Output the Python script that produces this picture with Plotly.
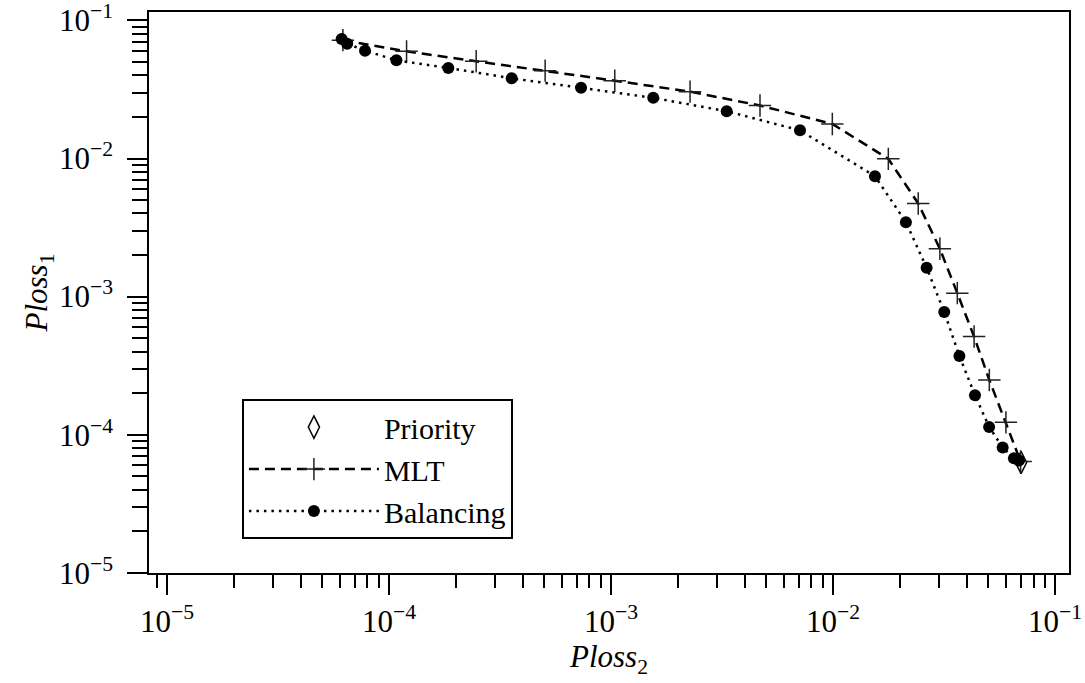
import plotly.graph_objects as go

# ---- data ----
ploss2_priority = [0.0703]
ploss1_priority = [6.3e-5]

ploss2_mlt = [6.2e-5, 1.20e-4, 2.47e-4, 5.05e-4, 1.04e-3, 2.27e-3, 4.69e-3, 9.93e-3,
              0.01775, 0.0242, 0.0303, 0.0363, 0.0432, 0.0506, 0.0601, 0.0700]
ploss1_mlt = [0.0720, 0.0597, 0.0506, 0.0433, 0.0366, 0.0305, 0.0242, 0.0178,
              9.95e-3, 4.73e-3, 2.22e-3, 1.06e-3, 5.14e-4, 2.49e-4, 1.23e-4, 6.4e-5]

ploss2_bal = [6.12e-5, 6.48e-5, 7.8e-5, 1.08e-4, 1.85e-4, 3.57e-4, 7.33e-4, 1.55e-3,
              3.32e-3, 7.1e-3, 0.01545, 0.0213, 0.0264, 0.0317, 0.0371, 0.0436,
              0.0505, 0.0581, 0.0653, 0.0688]
ploss1_bal = [0.0734, 0.0679, 0.0604, 0.0514, 0.0453, 0.0381, 0.0325, 0.0275,
              0.0220, 0.0160, 7.45e-3, 3.46e-3, 1.62e-3, 7.74e-4, 3.72e-4, 1.93e-4,
              1.14e-4, 8.09e-5, 6.77e-5, 6.5e-5]

tick_vals = [1e-5, 1e-4, 1e-3, 1e-2, 1e-1]
tick_text = ["10<sup>\u22125</sup>", "10<sup>\u22124</sup>", "10<sup>\u22123</sup>",
             "10<sup>\u22122</sup>", "10<sup>\u22121</sup>"]
ytick_text = [t + "\u00a0" for t in tick_text]

FONT = "Liberation Serif"

fig = go.Figure()
fig.add_trace(go.Scatter(
    x=ploss2_priority, y=ploss1_priority, mode="markers", name="Priority",
    marker=dict(symbol="diamond-tall-open", size=16, color="black",
                line=dict(width=1.5, color="black"))))
fig.add_trace(go.Scatter(
    x=ploss2_mlt, y=ploss1_mlt, mode="lines+markers", name="MLT",
    line=dict(color="black", width=2.5, dash="10px,6px"),
    marker=dict(symbol="cross-thin-open", size=16, color="#222",
                line=dict(width=1.5, color="#222"))))
fig.add_trace(go.Scatter(
    x=ploss2_bal, y=ploss1_bal, mode="lines+markers", name="Balancing",
    line=dict(color="black", width=2.5, dash="2.5px,5px"),
    marker=dict(symbol="circle", size=12, color="black")))

axis_common = dict(
    type="log", showgrid=False, zeroline=False, automargin=False,
    showline=True, linecolor="black", linewidth=2, mirror=True,
    ticks="outside", tickcolor="black", tickwidth=2,
    tickvals=tick_vals, ticklabeloverflow="allow",
    tickfont=dict(family=FONT, size=31, color="black"),
)

fig.update_xaxes(
    **axis_common, ticktext=tick_text, range=[-5.081, -0.937], ticklen=20,
    minor=dict(ticks="outside", ticklen=13, tickwidth=2, tickcolor="black", dtick="D1"),
    title=dict(text="<i>Ploss</i><sub>2</sub>", font=dict(family=FONT, size=31, color="black"),
               standoff=0),
)
fig.update_yaxes(
    **axis_common, ticktext=ytick_text, range=[-5.001, -0.939], ticklen=20,
    minor=dict(ticks="outside", ticklen=15, tickwidth=2, tickcolor="black", dtick="D1"),
    title=dict(text="<i>Ploss</i><sub>1</sub>", font=dict(family=FONT, size=31, color="black"),
               standoff=0),
)

fig.update_layout(
    width=1085, height=683,
    margin=dict(l=149, r=16, t=12, b=110),
    paper_bgcolor="white", plot_bgcolor="white",
    font=dict(family=FONT, color="black"),
    legend=dict(x=0.101, y=0.31, xanchor="left", yanchor="top",
                bordercolor="black", borderwidth=2, bgcolor="white",
                font=dict(family=FONT, size=30, color="black"),
                itemwidth=130, tracegroupgap=0),
    showlegend=True,
)

fig.write_html("out.html")
